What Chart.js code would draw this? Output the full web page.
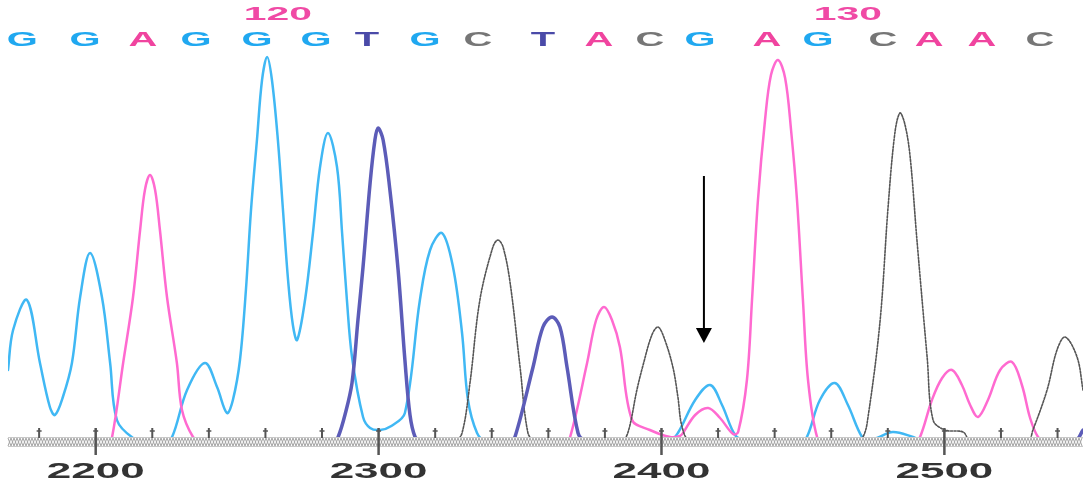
<!DOCTYPE html>
<html>
<head>
  <title>Cromatograma</title>
  <script src="https://cdn.jsdelivr.net/npm/chart.js"></script>
  <style>
    body { margin: 0; background: #fff; }
    #wrap { width: 1083px; height: 483px; }
  </style>
</head>
<body>
  <div id="wrap"><canvas id="myChart"></canvas></div>

  <script>
    var gTrace = [[2169.0,70],[2170.8,110],[2175.7,140],[2180.3,77],[2183.8,33],[2185.6,25],[2188.4,43],[2191.6,77],[2194.5,143],[2198.0,187],[2202.2,143],[2205.1,77],[2207.5,20],[2213.2,2],[2217.4,0],[2224.5,0],[2227.0,3],[2232.3,50],[2238.6,77],[2242.9,53],[2246.4,27],[2248.5,40],[2251.0,80],[2253.1,150],[2254.9,230],[2257.0,300],[2258.8,360],[2260.6,383],[2262.3,360],[2264.4,300],[2266.2,230],[2268.0,160],[2269.7,115],[2271.2,100],[2274.0,140],[2276.8,207],[2279.3,273],[2282.1,307],[2285.3,273],[2287.1,207],[2288.8,140],[2290.6,83],[2294.5,23],[2297.0,12],[2300.5,10],[2304.5,14],[2309.3,27],[2314.6,140],[2318.2,190],[2322.4,207],[2326.3,173],[2329.5,107],[2331.6,40],[2334.8,7],[2337.6,0],[2403.0,0],[2405.8,7],[2411.9,40],[2417.2,55],[2421.4,35],[2426.0,5],[2429.5,0],[2449.0,0],[2451.4,3],[2456.0,40],[2461.3,57],[2465.9,35],[2470.9,3],[2473.7,0],[2476.2,2],[2481.8,8],[2488.9,3],[2491.4,0],[2549.0,0]];
    var aTrace = [[2169.0,0],[2204.4,0],[2205.8,3],[2209.7,77],[2213.2,143],[2215.7,210],[2217.4,250],[2219.2,265],[2221.0,250],[2222.7,210],[2225.2,143],[2228.7,77],[2230.5,30],[2234.4,3],[2236.9,0],[2365.9,0],[2367.7,3],[2373.7,77],[2376.9,120],[2379.7,133],[2382.5,120],[2385.3,93],[2389.6,20],[2395.9,10],[2403.0,3],[2406.5,4],[2407.6,7],[2411.9,25],[2416.5,32],[2420.7,22],[2425.3,6],[2427.1,8],[2430.2,60],[2432.0,140],[2434.1,240],[2436.6,320],[2438.7,365],[2441.2,380],[2443.7,362],[2445.8,310],[2447.9,240],[2450.0,140],[2451.8,60],[2455.0,3],[2457.8,0],[2489.6,0],[2491.4,3],[2495.6,40],[2499.2,62],[2502.7,70],[2506.2,55],[2509.1,35],[2511.9,23],[2515.4,40],[2519.7,70],[2523.9,78],[2527.4,55],[2530.3,22],[2533.1,3],[2535.6,0],[2549.0,0]];
    var tTrace = [[2169.0,0],[2284.6,0],[2285.7,3],[2288.1,25],[2290.6,57],[2292.7,120],[2294.5,173],[2297.0,257],[2298.7,300],[2299.8,312],[2301.6,300],[2304.0,250],[2306.9,170],[2309.3,80],[2311.1,25],[2312.9,3],[2314.6,0],[2346.5,0],[2348.2,3],[2354.6,73],[2358.1,113],[2361.3,123],[2364.1,113],[2366.6,73],[2370.5,7],[2373.0,0],[2546.2,0],[2549.0,10]];
    var cTrace = [[2169.0,0],[2327.0,0],[2329.5,7],[2332.3,57],[2335.8,140],[2340.4,193],[2342.2,200],[2344.0,193],[2346.5,157],[2350.0,73],[2352.8,7],[2355.3,0],[2386.0,0],[2388.2,8],[2391.3,50],[2393.5,75],[2396.6,105],[2398.8,113],[2401.2,100],[2404.1,72],[2405.8,43],[2407.3,13],[2410.1,0],[2469.5,0],[2471.2,3],[2472.7,17],[2477.2,117],[2480.1,233],[2482.5,307],[2484.3,327],[2486.1,315],[2487.9,283],[2490.3,200],[2493.9,83],[2496.0,20],[2500.2,10],[2506.6,8],[2509.1,0],[2529.6,0],[2531.3,10],[2536.3,50],[2539.8,90],[2542.7,103],[2546.9,83],[2549.0,50]];

    // Secuencia de bases y su posicion
    var bases = ['G','G','A','G','G','G','T','G','C','T','A','C','G','A','G','C','A','A','C'];
    var basePos = [2174.0,2196.2,2216.7,2235.5,2257.0,2277.9,2295.9,2316.4,2335.1,2358.1,2377.9,2395.9,2413.6,2437.3,2455.3,2478.3,2494.6,2513.3,2533.8];
    var seqNumbers = ['120','130'];
    var seqNumberPos = [2264.4,2465.9];

    // Eje inferior
    var tickValues = [2180,2200,2220,2240,2260,2280,2300,2320,2340,2360,2380,2400,2420,2440,2460,2480,2500,2520,2540];
    var tickLabels = ['2200','2300','2400','2500'];

    // Flecha
    var arrowX = 2415.0, arrowTop = 264, arrowTip = 97;

    var baseColors = { G: '#20a8f0', A: '#f0449f', T: '#4a4aa8', C: '#767676' };

    function stretchedText(ctx, txt, x, y, sx) {
      ctx.save();
      ctx.translate(x, y);
      ctx.scale(sx, 1);
      ctx.fillText(txt, 0, 0);
      ctx.restore();
    }

    var decoPlugin = {
      id: 'deco',
      afterDatasetsDraw: function(chart) {
        var ctx = chart.ctx, xs = chart.scales.x, ys = chart.scales.y, area = chart.chartArea;
        var y0 = ys.getPixelForValue(0);
        ctx.save();
        // franja de la linea base
        ctx.fillStyle = '#fff';
        ctx.fillRect(area.left, y0 - 3, area.right - area.left, 10);
        ctx.strokeStyle = '#a4a4a4';
        ctx.lineWidth = 1;
        for (var ph = 0; ph < 2; ph++) {
          ctx.beginPath();
          for (var px = area.left, i = 0; px <= area.right; px += 3, i++) {
            var yy = ((i + ph) % 2 === 0) ? y0 - 2 : y0 + 6;
            if (i === 0) ctx.moveTo(px, yy); else ctx.lineTo(px, yy);
          }
          ctx.stroke();
        }
        ctx.strokeStyle = '#c8c8c8';
        ctx.beginPath();
        ctx.moveTo(area.left, y0 - 2.5); ctx.lineTo(area.right, y0 - 2.5);
        ctx.moveTo(area.left, y0 + 6.5); ctx.lineTo(area.right, y0 + 6.5);
        ctx.stroke();

        // marcas del eje
        ctx.strokeStyle = '#555';
        tickValues.forEach(function(v) {
          var x = xs.getPixelForValue(v);
          var major = v % 100 === 0;
          ctx.lineWidth = major ? 2.5 : 2;
          ctx.beginPath();
          ctx.moveTo(x, y0 - 12);
          ctx.lineTo(x, major ? y0 + 15 : y0 - 2);
          ctx.stroke();
          ctx.lineWidth = 1.5;
          ctx.beginPath();
          ctx.moveTo(x - 2.5, y0 - 9);
          ctx.lineTo(x + 2.5, y0 - 9);
          ctx.stroke();
        });

        // flecha
        var ax = xs.getPixelForValue(arrowX);
        var at = ys.getPixelForValue(arrowTop);
        var tip = ys.getPixelForValue(arrowTip);
        ctx.strokeStyle = '#000';
        ctx.fillStyle = '#000';
        ctx.lineWidth = 2;
        ctx.beginPath();
        ctx.moveTo(ax, at);
        ctx.lineTo(ax, tip - 12);
        ctx.stroke();
        ctx.beginPath();
        ctx.moveTo(ax - 8, tip - 15);
        ctx.lineTo(ax + 8, tip - 15);
        ctx.lineTo(ax, tip);
        ctx.closePath();
        ctx.fill();
        ctx.restore();
      },
      afterDraw: function(chart) {
        var ctx = chart.ctx, xs = chart.scales.x;
        ctx.save();
        ctx.textAlign = 'center';
        ctx.textBaseline = 'middle';
        // bases
        ctx.font = 'bold 21px "Liberation Sans", Arial, sans-serif';
        bases.forEach(function(b, i) {
          ctx.fillStyle = baseColors[b];
          stretchedText(ctx, b, xs.getPixelForValue(basePos[i]), 40, 1.9);
        });
        // numeracion
        ctx.font = 'bold 19px "Liberation Sans", Arial, sans-serif';
        ctx.fillStyle = '#f04aa5';
        seqNumbers.forEach(function(n, i) {
          stretchedText(ctx, n, xs.getPixelForValue(seqNumberPos[i]), 15, 2.15);
        });
        // etiquetas del eje
        ctx.font = 'bold 22px "Liberation Sans", Arial, sans-serif';
        ctx.fillStyle = '#333';
        tickLabels.forEach(function(t) {
          stretchedText(ctx, t, xs.getPixelForValue(Number(t)), 472, 2.0);
        });
        ctx.restore();
      }
    };

    var ctx = document.getElementById('myChart').getContext('2d');
    var myChart = new Chart(ctx, {
      type: 'line',
      data: {
        datasets: [
          { label: 'T', data: tTrace, borderColor: '#5c5cb8', borderWidth: 3.5 },
          { label: 'C', data: cTrace, borderColor: '#555', borderWidth: 1.6, borderDash: [2, 1.5] },
          { label: 'A', data: aTrace, borderColor: '#ff6ad0', borderWidth: 2.5 },
          { label: 'G', data: gTrace, borderColor: '#40b8f4', borderWidth: 2.5 }
        ]
      },
      options: {
        responsive: true,
        maintainAspectRatio: false,
        animation: false,
        layout: { padding: { left: 8, right: 0, top: 50, bottom: 43 } },
        elements: {
          point: { radius: 0 },
          line: { tension: 0.35, fill: false, borderJoinStyle: 'round', borderCapStyle: 'round' }
        },
        plugins: { legend: { display: false }, tooltip: { enabled: false } },
        scales: {
          x: { type: 'linear', min: 2169, max: 2549, display: false },
          y: { min: 0, max: 390, display: false }
        }
      },
      plugins: [decoPlugin]
    });
  </script>
</body>
</html>
